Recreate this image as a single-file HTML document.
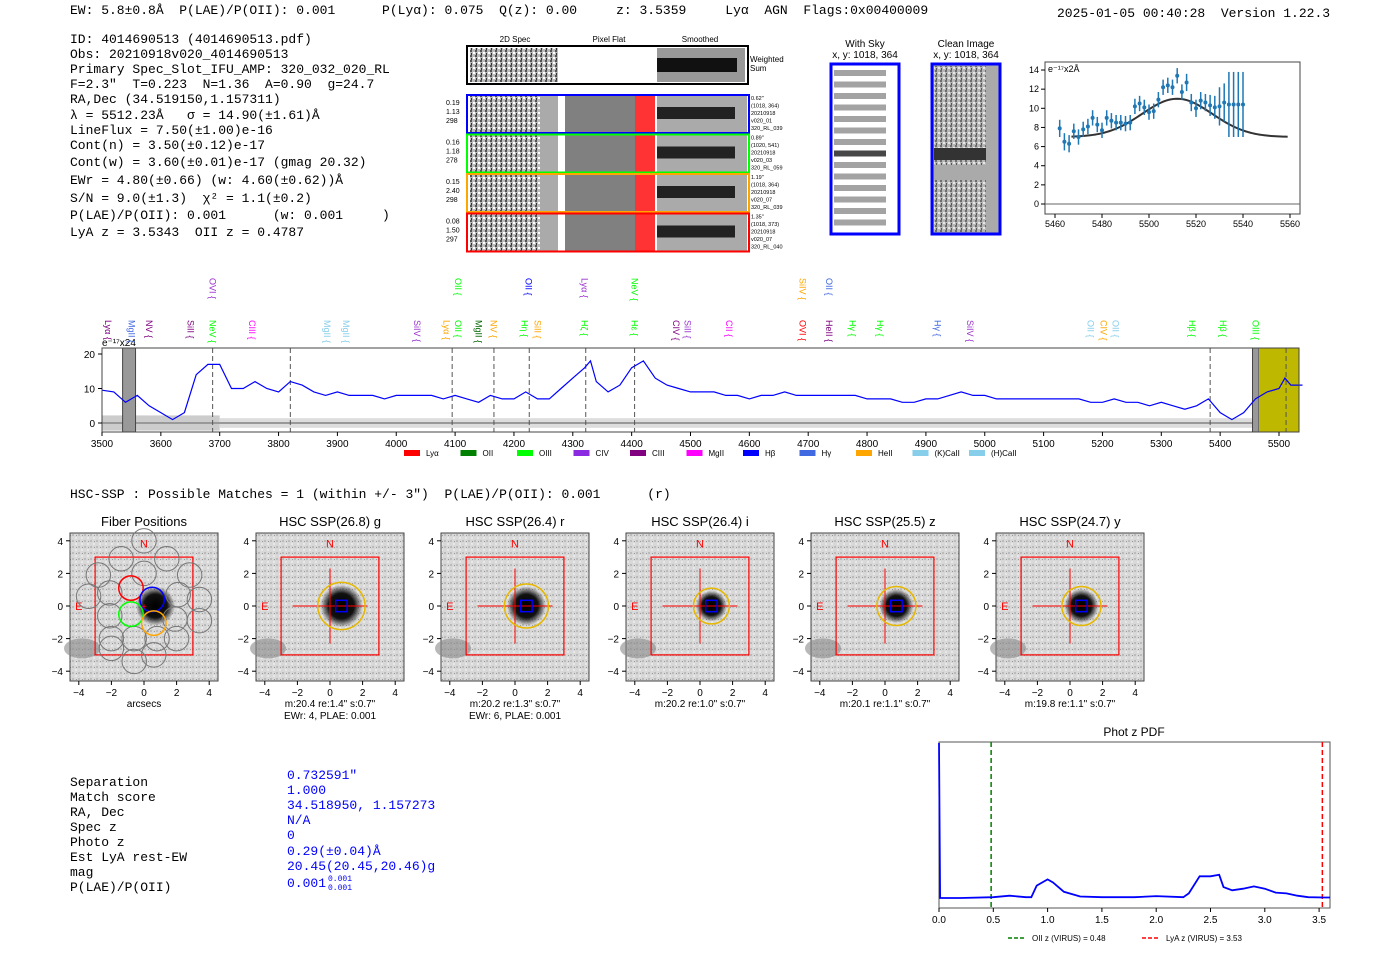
<!DOCTYPE html>
<html><head><meta charset="utf-8"><style>
body{margin:0;background:#fff;width:1400px;height:953px;overflow:hidden;font-family:"Liberation Sans",sans-serif}
svg text{font-family:"Liberation Sans",sans-serif}
svg .m text{font-family:"Liberation Mono",monospace;font-size:13px;white-space:pre}
</style></head><body>
<svg id="s" width="1400" height="953" xmlns="http://www.w3.org/2000/svg">
<defs>
<pattern id="noise" width="6" height="6" patternUnits="userSpaceOnUse"><rect width="6" height="6" fill="#d8d8d8"/><rect width="2" height="2" fill="#bbb"/><rect x="3" y="3" width="2" height="2" fill="#e8e8e8"/><rect x="4" y="1" width="1" height="1" fill="#999"/></pattern>
<pattern id="n2" width="5" height="5" patternUnits="userSpaceOnUse"><rect width="5" height="5" fill="#bbb"/><rect width="2" height="2" fill="#555"/><rect x="3" y="2" width="2" height="2" fill="#fff"/><rect x="1" y="3" width="1" height="2" fill="#333"/></pattern>
<radialGradient id="blob"><stop offset="0" stop-color="#000"/><stop offset="0.6" stop-color="#111"/><stop offset="1" stop-color="#111" stop-opacity="0"/></radialGradient>
</defs>
<g class="m">
<text x="70" y="14" xml:space="preserve">EW: 5.8±0.8Å  P(LAE)/P(OII): 0.001      P(Lyα): 0.075  Q(z): 0.00     z: 3.5359     Lyα  AGN  Flags:0x00400009</text>
<text x="1057" y="17" style="font-size:13px" xml:space="preserve">2025-01-05 00:40:28  Version 1.22.3</text>
<text x="70" y="43">ID: 4014690513 (4014690513.pdf)</text>
<text x="70" y="58">Obs: 20210918v020_4014690513</text>
<text x="70" y="73">Primary Spec_Slot_IFU_AMP: 320_032_020_RL</text>
<text x="70" y="88" xml:space="preserve">F=2.3"  T=0.223  N=1.36  A=0.90  g=24.7</text>
<text x="70" y="103">RA,Dec (34.519150,1.157311)</text>
<text x="70" y="119" xml:space="preserve">λ = 5512.23Å   σ = 14.90(±1.61)Å</text>
<text x="70" y="134">LineFlux = 7.50(±1.00)e-16</text>
<text x="70" y="149">Cont(n) = 3.50(±0.12)e-17</text>
<text x="70" y="166" xml:space="preserve">Cont(w) = 3.60(±0.01)e-17 (gmag 20.32)</text>
<text x="70" y="184" xml:space="preserve">EWr = 4.80(±0.66) (w: 4.60(±0.62))Å</text>
<text x="70" y="202" xml:space="preserve">S/N = 9.0(±1.3)  χ² = 1.1(±0.2)</text>
<text x="70" y="219" xml:space="preserve">P(LAE)/P(OII): 0.001      (w: 0.001     )</text>
<text x="70" y="236" xml:space="preserve">LyA z = 3.5343  OII z = 0.4787</text>
<text x="70" y="498" xml:space="preserve">HSC-SSP : Possible Matches = 1 (within +/- 3")  P(LAE)/P(OII): 0.001      (r)</text>
</g>
<g font-size="8">
<text x="515" y="42" text-anchor="middle">2D Spec</text><text x="609" y="42" text-anchor="middle">Pixel Flat</text><text x="700" y="42" text-anchor="middle">Smoothed</text>
<rect x="467" y="46" width="281" height="38" fill="#fff" stroke="#000" stroke-width="2"/>
<rect x="470" y="48" width="88" height="34" fill="url(#n2)"/><rect x="657" y="48" width="88" height="34" fill="#999"/><rect x="657" y="58" width="80" height="14" fill="#111"/>
<text x="750" y="62">Weighted</text><text x="750" y="71">Sum</text>
<g id="rows"></g>
</g>
<g font-size="10">
<text x="865" y="47" text-anchor="middle">With Sky</text><text x="865" y="58" text-anchor="middle">x, y: 1018, 364</text>
<rect x="831" y="64" width="68" height="170" fill="#fff" stroke="#00f" stroke-width="3"/>
<g id="sky"></g>
<text x="966" y="47" text-anchor="middle">Clean Image</text><text x="966" y="58" text-anchor="middle">x, y: 1018, 364</text>
<rect x="932" y="64" width="68" height="170" fill="#aaa" stroke="#00f" stroke-width="3"/>
<rect x="934" y="66" width="52" height="166" fill="url(#n2)" opacity="0.7"/>
<rect x="934" y="148" width="52" height="12" fill="#333"/><rect x="934" y="165" width="52" height="15" fill="#aaa"/>
</g>
<g id="fit"></g>
<g id="spec"></g>
<g id="cut"></g>
<g class="m">
<text x="70" y="786">Separation</text><text x="70" y="801">Match score</text><text x="70" y="816">RA, Dec</text><text x="70" y="831">Spec z</text><text x="70" y="846">Photo z</text><text x="70" y="861">Est LyA rest-EW</text><text x="70" y="876">mag</text><text x="70" y="891">P(LAE)/P(OII)</text>
<g fill="#00f"><text x="287" y="779">0.732591"</text><text x="287" y="794">1.000</text><text x="287" y="809">34.518950, 1.157273</text><text x="287" y="824">N/A</text><text x="287" y="839">0</text><text x="287" y="855">0.29(±0.04)Å</text><text x="287" y="870">20.45(20.45,20.46)g</text><text x="287" y="887">0.001</text><text x="328" y="881" style="font-size:8px">0.001</text><text x="328" y="890" style="font-size:8px">0.001</text></g>
</g>
<g id="pdf"></g>
</svg>
<script>
const NS='http://www.w3.org/2000/svg';
function E(p,t,a,txt){const e=document.createElementNS(NS,t);for(const k in a)e.setAttribute(k,a[k]);if(txt!==undefined)e.textContent=txt;p.appendChild(e);return e;}
// ---------- data ----------
const specWave=[3500,3520,3540,3560,3580,3600,3620,3640,3660,3680,3700,3720,3740,3760,3780,3800,3820,3840,3860,3880,3900,3920,3940,3960,3980,4000,4020,4040,4060,4080,4100,4120,4140,4160,4180,4200,4220,4240,4260,4280,4300,4320,4330,4340,4360,4380,4400,4420,4440,4460,4480,4500,4520,4540,4560,4580,4600,4620,4640,4660,4680,4700,4720,4740,4760,4780,4800,4820,4840,4860,4880,4900,4920,4940,4960,4980,5000,5020,5040,5060,5080,5100,5120,5140,5160,5180,5200,5220,5240,5260,5280,5300,5320,5340,5360,5380,5400,5420,5440,5460,5480,5500,5510,5520,5540];
const specFlux=[9.5,9,6,8,5,3,1,3,14,17,17,10,10,12,10,9,12,11,9,8,9,8,8,8,7,8,8,8,8,7,8,7,6,8,7,7,9,7,7,10,13,16,18,12,9,11,16,18,13,11,10,9,9,9,8,8,7,8,8,9,8,8,8,8,8,8,7,7,7,6,6,7,7,8,9,8,8,7,7,7,7,7,7,7,7,6,6,7,6,6,5,6,5,4,5,7,3,1,3,7,9,10,13,11,11];
const specTicks=[3500,3600,3700,3800,3900,4000,4100,4200,4300,4400,4500,4600,4700,4800,4900,5000,5100,5200,5300,5400,5500];
const specYTicks=[0,10,20];
const lineLabels=[["Lyα",3510,"#800080",1],["MgII",3550,"#4169e1",1],["NV",3580,"#800080",1],["SiII",3650,"#800080",1],["NeV",3688,"#0f0",1],["OVI",3688,"#9932cc",0],["CIII",3755,"#f0f",1],["MgII",3882,"#87ceeb",1],["MgII",3915,"#87ceeb",1],["SiIV",4035,"#9932cc",1],["Lyα",4085,"#ffa500",1],["OII",4105,"#0f0",1],["OII",4105,"#0f0",0],["MgII",4140,"#006400",1],["NV",4165,"#ffa500",1],["Hη",4218,"#0f0",1],["OII",4225,"#00f",0],["SiII",4240,"#ffa500",1],["Hζ",4320,"#0f0",1],["Lyα",4320,"#9932cc",0],["Hε",4405,"#0f0",1],["NeV",4405,"#0f0",0],["CIV",4475,"#800080",1],["SiII",4495,"#9932cc",1],["CII",4565,"#f0f",1],["OVI",4690,"#f00",1],["SiIV",4690,"#ffa500",0],["HeII",4735,"#800080",1],["OII",4735,"#4169e1",0],["Hγ",4775,"#0f0",1],["Hγ",4822,"#0f0",1],["Hγ",4920,"#4169e1",1],["SiIV",4975,"#9932cc",1],["OII",5180,"#87ceeb",1],["CIV",5202,"#ffa500",1],["OII",5222,"#87ceeb",1],["Hβ",5352,"#0f0",1],["Hβ",5405,"#0f0",1],["OIII",5460,"#0f0",1]];
const dashLines=[3688,3820,4095,4166,4226,4322,4405,5383,5512];
const fitWave=[5462,5464,5466,5468,5470,5472,5474,5476,5478,5480,5482,5484,5486,5488,5490,5492,5494,5496,5498,5500,5502,5504,5506,5508,5510,5512,5514,5516,5518,5520,5522,5524,5526,5528,5530,5532,5534,5536,5538,5540];
const fitFlux=[7.9,6.5,6.3,7.6,7.0,7.8,8.1,9.0,8.3,7.7,9.0,8.7,8.5,8.5,8.4,8.5,10.2,10.5,10.1,9.6,9.7,10.9,12.2,12.4,12.2,13.4,11.7,12.7,10.6,10.0,10.8,10.6,10.3,10.1,10.2,10.6,10.4,10.4,10.4,10.4];
const fitErr=[0.9,0.9,0.9,0.8,0.8,0.8,0.8,0.8,0.8,0.8,0.8,0.8,0.8,0.8,0.8,0.8,0.8,0.8,0.8,0.8,0.8,0.8,0.8,0.8,0.8,0.8,0.8,0.9,0.9,0.9,0.9,0.9,1.1,1.2,2,2,3.4,3.4,3.4,3.4];
const fitModel={cont:7.0,amp:4.0,mu:5512,sigma:14.9};
const fitXTicks=[5460,5480,5500,5520,5540,5560];
const fitYTicks=[0,2,4,6,8,10,12,14];
const pdfZ=[0,0.01,0.2,0.5,0.65,0.8,0.85,0.9,1.0,1.05,1.15,1.3,1.5,1.8,2.0,2.25,2.3,2.4,2.5,2.58,2.62,2.7,2.8,2.9,3.0,3.1,3.2,3.3,3.4,3.55,3.6];
const pdfP=[1.0,0.0,0.0,0.005,0.015,0.005,0.005,0.08,0.12,0.1,0.04,0.01,0.005,0.005,0.012,0.005,0.03,0.14,0.14,0.15,0.07,0.05,0.06,0.075,0.06,0.035,0.03,0.015,0.005,0.003,0.003];
const pdfTicks=[0,0.5,1,1.5,2,2.5,3,3.5];
const cutTitles=["Fiber Positions","HSC SSP(26.8) g","HSC SSP(26.4) r","HSC SSP(26.4) i","HSC SSP(25.5) z","HSC SSP(24.7) y"];
const cutCaps=[["arcsecs"],["m:20.4  re:1.4\"  s:0.7\"","EWr: 4, PLAE: 0.001"],["m:20.2  re:1.3\"  s:0.7\"","EWr: 6, PLAE: 0.001"],["m:20.2  re:1.0\"  s:0.7\""],["m:20.1  re:1.1\"  s:0.7\""],["m:19.8  re:1.1\"  s:0.7\""]];
const cutRadius=[0,1.3,1.2,0.95,1.05,1.05];
// ---------- 2D rows ----------
const rows=document.getElementById('rows');
const rowCols=["#00f","#0f0","#ffa500","#f00"];const rowInfo=[["0.19","1.13","298","0.62\"","(1018, 364)","20210918","v020_01","320_RL_039"],["0.16","1.18","278","0.89\"","(1020, 541)","20210918","v020_03","320_RL_059"],["0.15","2.40","298","1.19\"","(1018, 364)","20210918","v020_07","320_RL_039"],["0.08","1.50","297","1.35\"","(1018, 373)","20210918","v020_07","320_RL_040"]];
rowCols.forEach((c,i)=>{const y=95+i*39.5;
E(rows,'rect',{x:470,y:y+1,width:88,height:36,fill:'url(#n2)'});E(rows,'rect',{x:540,y:y+1,width:18,height:36,fill:'#aaa'});
E(rows,'rect',{x:565,y:y+1,width:70,height:36,fill:'#808080'});E(rows,'rect',{x:635,y:y+1,width:20,height:36,fill:'#f33'});
E(rows,'rect',{x:657,y:y+1,width:90,height:36,fill:'#aaa'});E(rows,'rect',{x:657,y:y+12,width:78,height:12,fill:'#222'});
const r=E(rows,'rect',{x:467,y:y,width:282,height:38,fill:'none',stroke:c,'stroke-width':2});

rowInfo[i].slice(0,3).forEach((t,k)=>E(rows,'text',{x:446,y:y+10+k*9,'font-size':7},t));
rowInfo[i].slice(3).forEach((t,k)=>E(rows,'text',{x:751,y:y+5+k*7.5,'font-size':5.5},t));});
const sky=document.getElementById('sky');
for(let k=0;k<14;k++){E(sky,'rect',{x:834,y:70+k*11.5,width:52,height:6,fill:k==7?'#333':'#999',opacity:0.9});}
// ---------- fit chart ----------
(function(){const g=document.getElementById('fit');const X0=1045,X1=1300,Y0=62,Y1=214;
const fx=w=>1055+(w-5460)*2.35, fy=v=>204-v*9.57;
E(g,'rect',{x:X0,y:Y0,width:X1-X0,height:Y1-Y0,fill:'#fff',stroke:'#444'});
E(g,'line',{x1:X0,x2:X1,y1:fy(0),y2:fy(0),stroke:'#666'});
fitXTicks.forEach(t=>{E(g,'line',{x1:fx(t),x2:fx(t),y1:Y1,y2:Y1+4,stroke:'#000'});E(g,'text',{x:fx(t),y:Y1+13,'font-size':9,'text-anchor':'middle'},t);});
fitYTicks.forEach(t=>{E(g,'line',{x1:X0-4,x2:X0,y1:fy(t),y2:fy(t),stroke:'#000'});E(g,'text',{x:X0-6,y:fy(t)+3,'font-size':9,'text-anchor':'end'},t);});
E(g,'text',{x:X0+3,y:Y0+10,'font-size':9},'e⁻¹⁷x2Å');
let d='';for(let w=5467;w<=5559;w+=1){const v=fitModel.cont+fitModel.amp*Math.exp(-0.5*((w-fitModel.mu)/fitModel.sigma)**2);d+=(d?'L':'M')+fx(w)+','+fy(v);}
E(g,'path',{d:d,fill:'none',stroke:'#333','stroke-width':2});
fitWave.forEach((w,i)=>{const el=E(g,'line',{x1:fx(w),x2:fx(w),y1:fy(fitFlux[i]-fitErr[i]),y2:fy(fitFlux[i]+fitErr[i]),stroke:'#1f77b4','stroke-width':1.5});

E(g,'circle',{cx:fx(w),cy:fy(fitFlux[i]),r:2,fill:'#1f77b4'});});})();
// ---------- spectrum ----------
(function(){const g=document.getElementById('spec');const X0=102,X1=1299,Y0=348,Y1=432;
const sx=w=>102+(w-3500)*0.5885, sy=v=>423-v*3.45;
E(g,'rect',{x:X0,y:Y0,width:X1-X0,height:Y1-Y0,fill:'#fff'});
E(g,'rect',{x:X0,y:sy(2.2),width:sx(3700)-X0,height:sy(-2.2)-sy(2.2),fill:'#ccc'});
E(g,'rect',{x:sx(3700),y:sy(1.4),width:X1-sx(3700),height:sy(-1.4)-sy(1.4),fill:'#ddd'});
E(g,'line',{x1:X0,x2:X1,y1:sy(0),y2:sy(0),stroke:'#999','stroke-width':2});
E(g,'rect',{x:sx(3535),y:Y0,width:sx(3557)-sx(3535),height:Y1-Y0,fill:'#999',stroke:'#444'});
E(g,'rect',{x:sx(5455),y:Y0,width:sx(5466)-sx(5455),height:Y1-Y0,fill:'#999',stroke:'#444'});
E(g,'rect',{x:sx(5466),y:Y0,width:X1-sx(5466),height:Y1-Y0,fill:'#bfb800'});
dashLines.forEach(w=>E(g,'line',{x1:sx(w),x2:sx(w),y1:Y0,y2:Y1,stroke:'#555','stroke-dasharray':'5,3'}));
const d=specWave.map((w,i)=>(i?'L':'M')+sx(w).toFixed(1)+','+sy(specFlux[i]).toFixed(1)).join('');
const p=E(g,'path',{d:d,fill:'none',stroke:'#00f','stroke-width':1.2});
E(g,'rect',{x:X0,y:Y0,width:X1-X0,height:Y1-Y0,fill:'none',stroke:'#444'});
specTicks.forEach(t=>{E(g,'line',{x1:sx(t),x2:sx(t),y1:Y1,y2:Y1+4,stroke:'#000'});E(g,'text',{x:sx(t),y:Y1+15,'font-size':10,'text-anchor':'middle'},t);});
specYTicks.forEach(t=>{E(g,'line',{x1:X0-4,x2:X0,y1:sy(t),y2:sy(t),stroke:'#000'});E(g,'text',{x:X0-7,y:sy(t)+4,'font-size':10,'text-anchor':'end'},t);});
E(g,'text',{x:X0,y:Y0-2,'font-size':10},'e⁻¹⁷x24');
lineLabels.forEach(([n,w,c,low])=>{const x=sx(w),y=low?320:278;const t=E(g,'text',{x:0,y:0,'font-size':9,fill:c,transform:`translate(${x-3},${y}) rotate(90)`},n+' {');
});
const leg=[["Lyα","#f00"],["OII","#008000"],["OIII","#0f0"],["CIV","#8a2be2"],["CIII","#800080"],["MgII","#f0f"],["Hβ","#00f"],["Hγ","#4169e1"],["HeII","#ffa500"],["(K)CaII","#87ceeb"],["(H)CaII","#87ceeb"]];
leg.forEach(([n,c],i)=>{const x=404+i*56.5;E(g,'rect',{x:x,y:450,width:16,height:6,fill:c});E(g,'text',{x:x+22,y:456,'font-size':8},n);});})();
// ---------- cutouts ----------
(function(){const g=document.getElementById('cut');const lefts=[70,256,441,626,811,996];const S=16.3;
lefts.forEach((L,i)=>{const cx=L+74,cy=606;
E(g,'text',{x:cx,y:526,'font-size':13,'text-anchor':'middle'},cutTitles[i]);
E(g,'rect',{x:L,y:533,width:148,height:148,fill:'url(#noise)',stroke:'#444'});
E(g,'ellipse',{cx:L+12,cy:cy+2.6*S,rx:18,ry:10,fill:'#888',opacity:0.6});
const r=i==0?1.2:cutRadius[i];
E(g,'circle',{cx:cx+0.7*S,cy:cy,r:r*S,fill:'url(#blob)'});
E(g,'rect',{x:cx-3*S,y:cy-3*S,width:6*S,height:6*S,fill:'none',stroke:'#f00','stroke-width':1.2});
E(g,'text',{x:cx,y:cy-3.6*S,'font-size':11,fill:'#f00','text-anchor':'middle'},'N');
E(g,'text',{x:cx-4*S,y:cy+4,'font-size':11,fill:'#f00','text-anchor':'middle'},'E');
if(i==0){const pts=[[0,4],[-1.4,2.9],[1.4,2.9],[-2.8,1.9],[0,2.0],[2.8,1.9],[-3.4,0.6],[-2.1,0.8],[2.1,0.7],[3.4,0.4],[-2.1,-0.6],[1.9,-0.8],[3.4,-0.9],[-2.0,-2.0],[-0.6,-2.0],[0.8,-2.0],[2.0,-2.0],[-2.0,-2.6],[0.6,-3.0],[-0.6,-3.4]];
pts.forEach(([a,b])=>E(g,'circle',{cx:cx+a*S,cy:cy-b*S,r:0.75*S,fill:'none',stroke:'#777'}));
[[-0.8,1.1,'#f00'],[0.5,0.4,'#00f'],[-0.8,-0.5,'#0f0'],[0.6,-1.05,'#ffa500']].forEach(([a,b,c])=>E(g,'circle',{cx:cx+a*S,cy:cy-b*S,r:0.75*S,fill:'none',stroke:c,'stroke-width':1.5}));
E(g,'text',{x:cx,y:cy+4,'font-size':10,fill:'#f00','text-anchor':'middle'},'+');}
else{E(g,'line',{x1:cx-2.3*S,x2:cx+2.3*S,y1:cy,y2:cy,stroke:'#f00'});E(g,'line',{x1:cx,x2:cx,y1:cy-2.3*S,y2:cy+2.3*S,stroke:'#f00'});
E(g,'circle',{cx:cx+0.7*S,cy:cy,r:(r+0.15)*S,fill:'none',stroke:'#e6b800','stroke-width':1.5});
E(g,'rect',{x:cx+0.35*S,y:cy-0.35*S,width:0.7*S,height:0.7*S,fill:'none',stroke:'#00f','stroke-width':1.5});}
[-4,-2,0,2,4].forEach(t=>{const lab=t<0?'−'+(-t):''+t;
E(g,'line',{x1:cx+t*S,x2:cx+t*S,y1:681,y2:685,stroke:'#000'});E(g,'text',{x:cx+t*S,y:696,'font-size':10,'text-anchor':'middle'},lab);
E(g,'line',{x1:L-4,x2:L,y1:cy-t*S,y2:cy-t*S,stroke:'#000'});E(g,'text',{x:L-7,y:cy-t*S+4,'font-size':10,'text-anchor':'end'},lab);});
cutCaps[i].forEach((c,k)=>{const t=E(g,'text',{x:cx,y:707+k*12,'font-size':10,'text-anchor':'middle'},c);t.setAttribute('xml:space','preserve');});});})();
// ---------- phot z pdf ----------
(function(){const g=document.getElementById('pdf');const X0=939,X1=1330,Y0=742,Y1=908;
const px=z=>939+z*108.6, py=p=>898-p*155;
E(g,'text',{x:1134,y:736,'font-size':12,'text-anchor':'middle'},'Phot z PDF');
E(g,'rect',{x:X0,y:Y0,width:X1-X0,height:Y1-Y0,fill:'#fff',stroke:'#555'});
E(g,'line',{x1:px(0.48),x2:px(0.48),y1:Y0,y2:Y1,stroke:'#008000','stroke-width':1.5,'stroke-dasharray':'5,3'});
E(g,'line',{x1:px(3.53),x2:px(3.53),y1:Y0,y2:Y1,stroke:'#f00','stroke-width':1.5,'stroke-dasharray':'5,3'});
const d=pdfZ.map((z,i)=>(i?'L':'M')+px(z).toFixed(1)+','+py(pdfP[i]).toFixed(1)).join('');
const p=E(g,'path',{d:d,fill:'none',stroke:'#00f','stroke-width':1.8});
pdfTicks.forEach(t=>{E(g,'line',{x1:px(t),x2:px(t),y1:Y1,y2:Y1+4,stroke:'#000'});E(g,'text',{x:px(t),y:Y1+15,'font-size':10,'text-anchor':'middle'},t.toFixed(1));});
E(g,'line',{x1:1008,x2:1026,y1:938,y2:938,stroke:'#008000','stroke-dasharray':'4,2','stroke-width':1.5});E(g,'text',{x:1032,y:941,'font-size':8},'OII z (VIRUS) = 0.48');
E(g,'line',{x1:1142,x2:1160,y1:938,y2:938,stroke:'#f00','stroke-dasharray':'4,2','stroke-width':1.5});E(g,'text',{x:1166,y:941,'font-size':8},'LyA z (VIRUS) = 3.53');})();
</script>
</body></html>
